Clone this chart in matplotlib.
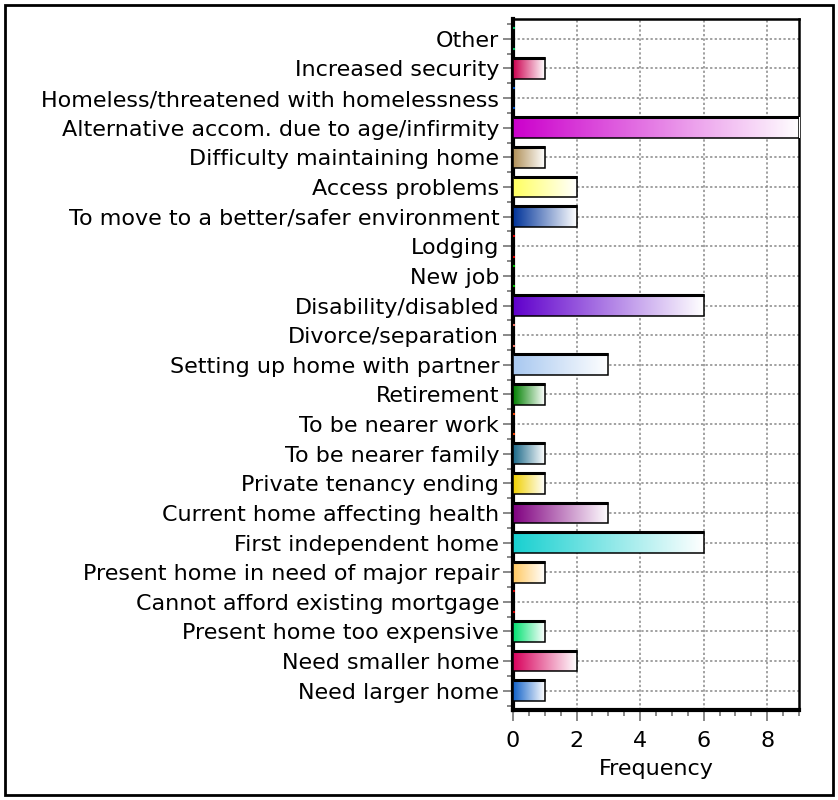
"""
Reasons for moving - frequency of each reason (horizontal gradient bars).
"""
import numpy as np
import matplotlib
matplotlib.use("Agg")
import matplotlib.pyplot as plt
from matplotlib.colors import LinearSegmentedColormap
from matplotlib.patches import Rectangle
from matplotlib.ticker import MultipleLocator

# bottom to top
reasons = [
    "Need larger home",
    "Need smaller home",
    "Present home too expensive",
    "Cannot afford existing mortgage",
    "Present home in need of major repair",
    "First independent home",
    "Current home affecting health",
    "Private tenancy ending",
    "To be nearer family",
    "To be nearer work",
    "Retirement",
    "Setting up home with partner",
    "Divorce/separation",
    "Disability/disabled",
    "New job",
    "Lodging",
    "To move to a better/safer environment",
    "Access problems",
    "Difficulty maintaining home",
    "Alternative accom. due to age/infirmity",
    "Homeless/threatened with homelessness",
    "Increased security",
    "Other",
]
frequency = [1, 2, 1, 0, 1, 6, 3, 1, 1, 0, 1, 3, 0, 6, 0, 0, 2, 2, 1, 9, 0, 1, 0]
colours = [
    "#1060c8", "#d8005c", "#00e070", "#d00000", "#ffc860", "#18d0d0",
    "#800080", "#f0d000", "#1a6888", "#f04000", "#008000", "#a8c8f0",
    "#f07060", "#6000cc", "#00c000", "#e00000", "#003399", "#ffff60",
    "#b09058", "#cc00cc", "#0050c0", "#cc0050", "#00c060",
]

BAR_H = 0.70

fig = plt.figure(figsize=(8.38, 8.0), dpi=100)
ax = fig.add_axes([0.6122, 0.1125, 0.3413, 0.86375])

y = np.arange(len(reasons))
for yi, v, c in zip(y, frequency, colours):
    if v <= 0:
        # zero-width bars only leave a coloured speck at the axis
        for yy in (yi - BAR_H / 2, yi + BAR_H / 2):
            ax.plot([0, 0.06], [yy, yy], color=c, lw=1.5, zorder=5,
                    solid_capstyle="butt", clip_on=False)
        continue
    cmap = LinearSegmentedColormap.from_list("g", [c, "#ffffff"])
    grad = np.linspace(0, 1, 256).reshape(1, -1)
    ax.imshow(grad, cmap=cmap, aspect="auto", interpolation="bilinear",
              extent=(0, v, yi - BAR_H / 2, yi + BAR_H / 2), zorder=3)
    ax.add_patch(Rectangle((0, yi - BAR_H / 2), v, BAR_H, fill=False,
                           edgecolor="black", lw=1.1, zorder=4))
    ax.plot([0, v], [yi + BAR_H / 2, yi + BAR_H / 2], color="black", lw=2.2,
            zorder=4, solid_capstyle="butt")

ax.set_xlim(0, 9)
ax.set_ylim(-0.65, len(reasons) - 0.33)
ax.set_yticks(y)
ax.set_yticklabels(reasons, fontsize=16)
ax.yaxis.set_minor_locator(MultipleLocator(0.5))
ax.xaxis.set_major_locator(MultipleLocator(2))
ax.xaxis.set_minor_locator(MultipleLocator(0.5))
ax.tick_params(axis="x", labelsize=16, pad=7)
ax.tick_params(axis="y", pad=3)
ax.tick_params(which="both", color="#888888", width=1.4)
ax.tick_params(axis="x", which="major", length=8)
ax.tick_params(axis="y", which="major", length=7)
ax.tick_params(which="minor", length=4)
ax.set_xlabel("Frequency", fontsize=16, labelpad=6)

ax.grid(True, which="major", ls=(0, (1.5, 1.5)), color="#888888", lw=1.1, zorder=1)
ax.set_axisbelow(True)

for s in ("left", "bottom"):
    ax.spines[s].set_linewidth(3)
for s in ("top", "right"):
    ax.spines[s].set_linewidth(1.8)

fig.patches.append(Rectangle((0.006, 0.006), 0.988, 0.988, transform=fig.transFigure,
                             fill=False, edgecolor="black", lw=2))

fig.savefig("out.png", dpi=100)
